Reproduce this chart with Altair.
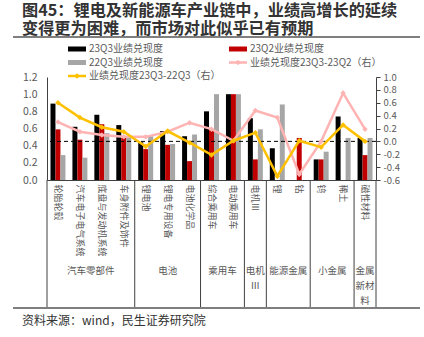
import altair as alt
import pandas as pd

# ---------------- data ----------------
cats = ["轮胎轮毂", "汽车电子电气系统", "底盘与发动机系统", "车身附件及饰件",
        "锂电池", "锂电专用设备", "电池化学品",
        "综合乘用车", "电动乘用车",
        "电机Ⅲ",
        "锂", "钴",
        "钨", "稀土",
        "磁性材料"]
group_names = ["汽车零部件", "电池", "乘用车", "电机Ⅲ", "能源金属", "小金属", "金属新材料"]
group_sizes = [4, 3, 2, 1, 2, 2, 1]

s_23q3 = [0.89, 0.62, 0.76, 0.64, 0.44, 0.57, 0.51, 0.80, 1.00, 0.72, 0.37, 0.00, 0.24, 0.74, 0.49]
s_23q2 = [0.59, 0.47, 0.65, 0.49, 0.36, 0.41, 0.22, 0.58, 1.00, 0.24, 0.00, 0.49, 0.24, 0.00, 0.29]
s_22q3 = [0.29, 0.26, 0.545, 0.49, 0.51, 0.42, 0.53, 1.00, 1.00, 0.59, 0.88, 0.00, 0.33, 0.49, 0.49]
d_23q2 = [0.30, 0.15, 0.10, 0.07, 0.07, 0.15, 0.29, 0.19, 0.01, 0.48, 0.37, -0.51, 0.00, 0.75, 0.19]
d_22q3 = [0.60, 0.37, 0.22, 0.15, -0.08, 0.16, -0.02, -0.21, 0.01, 0.135, -0.54, 0.01, -0.09, 0.255, 0.00]

series = ["23Q3业绩兑现度", "23Q2业绩兑现度", "22Q3业绩兑现度"]
line_names = ["业绩兑现度23Q3-23Q2（右）", "业绩兑现度23Q3-22Q3（右）"]
left_ticks = [0.0, 0.2, 0.4, 0.6, 0.8, 1.0, 1.2]
right_ticks = [-0.6, -0.4, -0.2, 0.0, 0.2, 0.4, 0.6, 0.8, 1.0]

title_lines = ["图45：锂电及新能源车产业链中，业绩高增长的延续", "变得更为困难，而市场对此似乎已有预期"]
source_text = "资料来源：wind，民生证券研究院"

# ---------------- styling ----------------
FONT = "Noto Sans CJK SC"
BAR_COLORS = ["#000000", "#C00000", "#A6A6A6"]
PINK = "#FFB3B3"
YELLOW = "#FFC000"
TXT = "#595959"
DARK = "#404040"
W, H = 329, 103

# ---------------- tables ----------------
bars_df = pd.DataFrame({
    "cat": cats * 3,
    "series": [series[0]] * len(cats) + [series[1]] * len(cats) + [series[2]] * len(cats),
    "value": s_23q3 + s_23q2 + s_22q3,
})
lines_df = pd.DataFrame({"cat": cats, "d1": d_23q2, "d2": d_22q3})

bounds = [0]
for s in group_sizes:
    bounds.append(bounds[-1] + s)


def wrap(name, size):
    if size > 1:
        return name
    return "\n".join(name[i:i + 2] for i in range(0, len(name), 2))


group_df = pd.DataFrame({
    "label": [wrap(n, s) for n, s in zip(group_names, group_sizes)],
    "mid": [(bounds[i] + bounds[i + 1]) / 2 for i in range(len(group_sizes))],
})
sep_df = pd.DataFrame({"b": bounds})

# ---------------- layers ----------------
bars = alt.Chart(bars_df).mark_bar().encode(
    x=alt.X("cat:N", sort=cats,
            scale=alt.Scale(paddingInner=0, paddingOuter=0),
            axis=alt.Axis(title=None, labelAngle=90, labelAlign="left", labelBaseline="middle",
                          ticks=False, labelPadding=4, labelFontSize=9, labelColor=TXT,
                          domainColor=DARK, labelOverlap=False, labelLimit=300)),
    xOffset=alt.XOffset("series:N", sort=series,
                        scale=alt.Scale(paddingInner=0, paddingOuter=0.7)),
    y=alt.Y("value:Q", scale=alt.Scale(domain=[0, 1.2], nice=False),
            axis=alt.Axis(values=left_ticks, format=".1f", ticks=False, title=None,
                          labelPadding=10, labelFontSize=10.5, labelColor=TXT,
                          domainColor=DARK, grid=False)),
    color=alt.Color("series:N", sort=series,
                    scale=alt.Scale(domain=series, range=BAR_COLORS), legend=None),
)

right_scale = alt.Scale(domain=[-0.6, 1.0], nice=False, zero=False)

zero_rule = alt.Chart(pd.DataFrame({"z": [0.0]})).mark_rule(
    color="#000000", strokeWidth=1, strokeDash=[4, 3]
).encode(y=alt.Y("z:Q", scale=right_scale, axis=None))

x_pt = alt.X("cat:N", sort=cats, scale=alt.Scale(type="point", padding=0.5), axis=None)

pink_line = alt.Chart(lines_df).mark_line(
    color=PINK, strokeWidth=2.5,
    point=alt.OverlayMarkDef(shape="diamond", filled=True, size=30, color=PINK)
).encode(x=x_pt, y=alt.Y("d1:Q", scale=right_scale, axis=None))

yellow_line = alt.Chart(lines_df).mark_line(
    color=YELLOW, strokeWidth=2.5,
    point=alt.OverlayMarkDef(shape="diamond", filled=True, size=30, color=YELLOW)
).encode(
    x=x_pt,
    y=alt.Y("d2:Q", scale=right_scale,
            axis=alt.Axis(orient="right", values=right_ticks, title=None, tickSize=4,
                          labelExpr="replace(format(datum.value, '.1f'), '\u2212', '-')",
                          labelPadding=3, labelFontSize=9.5, labelColor=TXT,
                          domainColor=DARK, tickColor=DARK, grid=False)),
)

gx_scale = alt.Scale(domain=[0, len(cats)], nice=False, zero=False)

group_text = alt.Chart(group_df).mark_text(
    baseline="top", align="center", fontSize=9.5, lineHeight=15, lineBreak="\n", color=TXT
).encode(x=alt.X("mid:Q", scale=gx_scale, axis=None), y=alt.value(189), text="label:N")

separators = alt.Chart(sep_df).mark_rule(color=DARK, strokeWidth=1).encode(
    x=alt.X("b:Q", scale=gx_scale, axis=None), y=alt.value(H), y2=alt.value(230)
)

one = pd.DataFrame({"k": [0]})
annotations = []
annotations.append(alt.Chart(one).mark_text(
    align="left", baseline="middle", fontSize=16.2, fontWeight="bold", color="#333333",
    lineBreak="\n", lineHeight=18
).encode(x=alt.value(-25), y=alt.value(-66), text=alt.value("\n".join(title_lines))))

annotations.append(alt.Chart(one).mark_rule(color="#7F7F7F", strokeWidth=2).encode(
    x=alt.value(-34), x2=alt.value(373), y=alt.value(-40)))
annotations.append(alt.Chart(one).mark_rule(color="#7F7F7F", strokeWidth=2).encode(
    x=alt.value(-34), x2=alt.value(373), y=alt.value(231)))
annotations.append(alt.Chart(one).mark_text(
    align="left", baseline="middle", fontSize=12, color="#333333"
).encode(x=alt.value(-25), y=alt.value(244), text=alt.value(source_text)))

# custom legend
legend_items = [("bar", BAR_COLORS[0], series[0]), ("bar", BAR_COLORS[1], series[1]),
                ("bar", BAR_COLORS[2], series[2]), ("line", PINK, line_names[0]),
                ("line", YELLOW, line_names[1])]
col_x = [21, 182]
row_y = [-28, -14.5, -1]
for i, (kind, color, label) in enumerate(legend_items):
    cx = col_x[i % 2]
    ry = row_y[i // 2]
    if kind == "bar":
        annotations.append(alt.Chart(one).mark_rect(color=color).encode(
            x=alt.value(cx), x2=alt.value(cx + 18), y=alt.value(ry - 2.5), y2=alt.value(ry + 2.5)))
    else:
        annotations.append(alt.Chart(one).mark_rule(color=color, strokeWidth=2.5).encode(
            x=alt.value(cx), x2=alt.value(cx + 18), y=alt.value(ry)))
        annotations.append(alt.Chart(one).mark_point(
            shape="diamond", filled=True, size=30, color=color, opacity=1
        ).encode(x=alt.value(cx + 9), y=alt.value(ry)))
    annotations.append(alt.Chart(one).mark_text(
        align="left", baseline="middle", fontSize=10, color=TXT
    ).encode(x=alt.value(cx + 21), y=alt.value(ry), text=alt.value(label)))

chart = alt.layer(
    bars, zero_rule, pink_line, yellow_line, separators, group_text, *annotations
).resolve_scale(x="independent", y="independent").properties(
    width=W, height=H,
    autosize=alt.AutoSizeParams(type="none"),
    padding={"left": 47, "top": 77, "right": 48, "bottom": 157},
).configure_view(stroke=None).configure_axis(
    labelFont=FONT, titleFont=FONT
).configure_text(font=FONT)

chart.save("out.html", embed_options={"renderer": "svg", "actions": False})
